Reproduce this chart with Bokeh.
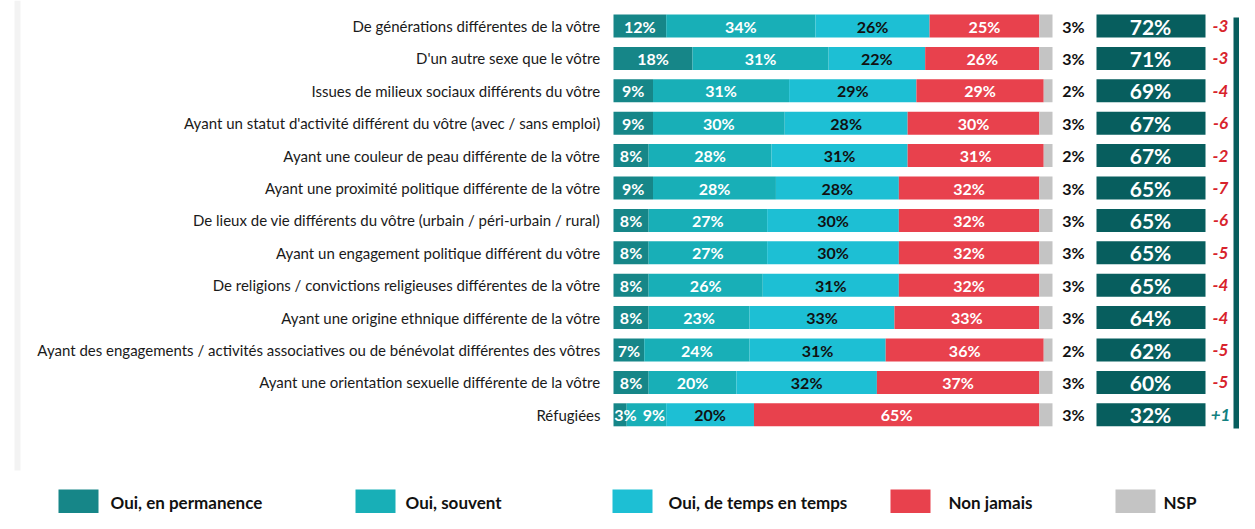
import numpy as np
from bokeh.plotting import figure
from bokeh.models import Range1d
from bokeh.core.properties import value
from bokeh.embed import file_html
from bokeh.resources import INLINE

categories = [
    "De générations différentes de la vôtre",
    "D'un autre sexe que le vôtre",
    "Issues de milieux sociaux différents du vôtre",
    "Ayant un statut d'activité différent du vôtre (avec / sans emploi)",
    "Ayant une couleur de peau différente de la vôtre",
    "Ayant une proximité politique différente de la vôtre",
    "De lieux de vie différents du vôtre (urbain / péri-urbain / rural)",
    "Ayant un engagement politique différent du vôtre",
    "De religions / convictions religieuses différentes de la vôtre",
    "Ayant une origine ethnique différente de la vôtre",
    "Ayant des engagements / activités associatives ou de bénévolat différentes des vôtres",
    "Ayant une orientation sexuelle différente de la vôtre",
    "Réfugiées",
]
permanence = [12, 18, 9, 9, 8, 9, 8, 8, 8, 8, 7, 8, 3]
souvent = [34, 31, 31, 30, 28, 28, 27, 27, 26, 23, 24, 20, 9]
temps = [26, 22, 29, 28, 31, 28, 30, 30, 31, 33, 31, 32, 20]
jamais = [25, 26, 29, 30, 31, 32, 32, 32, 32, 33, 36, 37, 65]
nsp = [3, 3, 2, 3, 2, 3, 3, 3, 3, 3, 2, 3, 3]
total_oui = [72, 71, 69, 67, 67, 65, 65, 65, 65, 64, 62, 60, 32]
evolution = [-3, -3, -4, -6, -2, -7, -6, -5, -4, -4, -5, -5, 1]
series_names = ["Oui, en permanence", "Oui, souvent", "Oui, de temps en temps", "Non jamais", "NSP"]
series_colors = ["#168688", "#18AFB7", "#1DBFD4", "#E8414D", "#C4C4C4"]
label_colors = ["white", "white", "#111111", "white"]

# ---- layout (picture px -> data units) ----
W, H = 1239, 513
PX = 4.39          # px per percentage point
X0 = 613           # px of 0 %
ROW = 32.4         # px per row
ROW0 = 25.5        # px of row 0 centre


def sx(s):
    return (s - X0) / PX


def sy(s):
    return (s - ROW0) / ROW


p = figure(width=W, height=H, x_range=Range1d(sx(0), sx(W)),
           y_range=Range1d(sy(H), sy(0)),
           x_axis_type=None, y_axis_type=None,
           output_backend="svg", toolbar_location=None, min_border=0)
p.outline_line_color = None
p.grid.visible = False
p.background_fill_color = "white"

rows = np.arange(len(categories))
BH = 0.71
FONT = value("Lato")

# faint left edge strip
p.quad(left=sx(14), right=sx(20), top=sy(0), bottom=sy(470), color="#F3F3F3", line_color=None)

# category labels
p.text(x=sx(600), y=rows, text=categories, text_align="right", text_baseline="middle",
       text_font=FONT, text_font_size="15px", text_color="#1a1a1a")

series = [permanence, souvent, temps, jamais, nsp]
cum = np.zeros(len(categories))
label_specs = []
prev_lab = np.full(len(categories), -100.0)
for k, vals in enumerate(series):
    vals = np.array(vals, dtype=float)
    left = cum.copy()
    right = cum + vals
    p.hbar(y=rows, left=left, right=right, height=BH, color=series_colors[k], line_color=None)
    if k < 4:
        mid = (left + right) / 2
        lab_x = np.maximum(mid, np.maximum(left + 2.7, prev_lab + 6.5))
        label_specs.append((lab_x, [f"{int(v)}%" for v in vals], label_colors[k]))
        prev_lab = lab_x
    cum = right

for lab_x, texts, col in label_specs:
    p.text(x=lab_x, y=rows, text=texts, text_align="center", text_baseline="middle",
           text_font=FONT, text_font_style="bold", text_font_size="16px", text_color=col)

# NSP labels
p.text(x=sx(1073), y=rows, text=[f"{v}%" for v in nsp], text_align="center",
       text_baseline="middle", text_font=FONT, text_font_style="bold",
       text_font_size="16px", text_color="#111111")

# total boxes
p.hbar(y=rows, left=sx(1096), right=sx(1205), height=BH, color="#075E5E", line_color=None)
p.text(x=sx(1150), y=rows, text=[f"{v}%" for v in total_oui], text_align="center",
       text_baseline="middle", text_font=FONT, text_font_style="bold",
       text_font_size="21px", text_color="white")

# evolution
p.text(x=sx(1220), y=rows, text=[("+" if v > 0 else "") + str(v) for v in evolution],
       text_align="center", text_baseline="middle", text_font=FONT,
       text_font_style="bold italic", text_font_size="17px",
       text_color=["#138080" if v > 0 else "#D8232C" for v in evolution])

# right panel (sliver at the edge)
p.quad(left=sx(1233), right=sx(1260), top=sy(17), bottom=sy(428), color="#075E5E", line_color=None)

# legend
sq_left = [58, 355, 612, 890, 1115]
txt_left = [110, 405, 668, 948, 1163]
for k, name in enumerate(series_names):
    p.quad(left=sx(sq_left[k]), right=sx(sq_left[k] + 40), top=sy(489), bottom=sy(520),
           color=series_colors[k], line_color=None)
    p.text(x=[sx(txt_left[k])], y=[sy(502)], text=[name], text_align="left",
           text_baseline="middle", text_font=FONT, text_font_style="bold",
           text_font_size="17px", text_color="#111111")

open("out.html", "w").write(file_html(p, INLINE))
